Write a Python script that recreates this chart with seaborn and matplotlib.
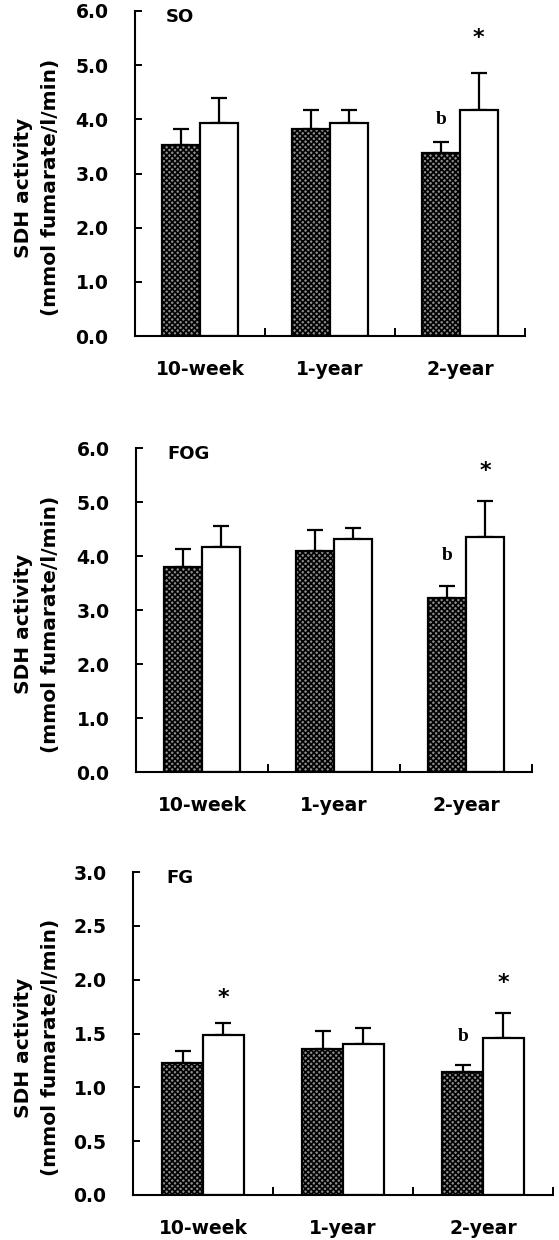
import numpy as np
import pandas as pd
import matplotlib
matplotlib.use("Agg")
import matplotlib.pyplot as plt
import seaborn as sns
from matplotlib.ticker import FixedLocator, FormatStrFormatter

# ---------------- data ----------------
groups = ["10-week", "1-year", "2-year"]
conditions = ["dark", "white"]

so_dark = [3.53, 3.82, 3.37]
so_dark_err = [0.30, 0.36, 0.22]
so_white = [3.93, 3.93, 4.18]
so_white_err = [0.47, 0.25, 0.67]

fog_dark = [3.80, 4.09, 3.23]
fog_dark_err = [0.33, 0.40, 0.22]
fog_white = [4.17, 4.31, 4.36]
fog_white_err = [0.39, 0.21, 0.65]

fg_dark = [1.23, 1.36, 1.14]
fg_dark_err = [0.105, 0.16, 0.07]
fg_white = [1.49, 1.40, 1.46]
fg_white_err = [0.11, 0.15, 0.23]

panel_names = ["SO", "FOG", "FG"]
y_maxes = [6.0, 6.0, 3.0]
y_steps = [1.0, 1.0, 0.5]

# annotations: (group index, condition index, text, y)
so_marks = [(2, 0, "b", 4.0), (2, 1, "*", 5.50)]
fog_marks = [(2, 0, "b", 4.0), (2, 1, "*", 5.58)]
fg_marks = [(2, 0, "b", 1.47), (0, 1, "*", 1.83), (2, 1, "*", 1.97)]

panels = [
    (so_dark, so_dark_err, so_white, so_white_err, so_marks),
    (fog_dark, fog_dark_err, fog_white, fog_white_err, fog_marks),
    (fg_dark, fg_dark_err, fg_white, fg_white_err, fg_marks),
]

# ---------------- style ----------------
sns.set_style("white")
plt.rcParams["font.family"] = ["DejaVu Sans"]
plt.rcParams["font.weight"] = "bold"
plt.rcParams["text.color"] = "black"
plt.rcParams["xtick.color"] = "black"
plt.rcParams["ytick.color"] = "black"
plt.rcParams["axes.labelcolor"] = "black"
plt.rcParams["hatch.linewidth"] = 1.2
plt.rcParams["hatch.color"] = "black"

W, H = 559, 1240
fig = plt.figure(figsize=(W / 100, H / 100), dpi=100)

# axes boxes in pixels: (left, top, right, bottom)
boxes = [(135, 11, 525, 336), (136, 448, 532, 772), (133, 872, 553, 1195)]


def px_axes(l, t, r, b):
    return [l / W, 1 - b / H, (r - l) / W, (b - t) / H]


for (dark, dark_err, white, white_err, marks), name, ymax, ystep, box in zip(
    panels, panel_names, y_maxes, y_steps, boxes
):
    ax = fig.add_axes(px_axes(*box))
    df = pd.DataFrame(
        {
            "group": groups * 2,
            "cond": [conditions[0]] * 3 + [conditions[1]] * 3,
            "value": list(dark) + list(white),
        }
    )
    sns.barplot(
        data=df, x="group", y="value", hue="cond", order=groups,
        hue_order=conditions, palette=["white", "white"], width=0.58,
        edgecolor="black", linewidth=1.6, errorbar=None, legend=False,
        ax=ax, zorder=2,
    )
    errs = [dark_err, white_err]
    centers = {}
    bar_conts = list(ax.containers)
    for ci, cont in enumerate(bar_conts):
        xs, ys = [], []
        for gi, bar in enumerate(cont.patches):
            if ci == 0:
                bar.set_facecolor("#8c8c8c")
                bar.set_hatch("xxxxxx")
            xc = bar.get_x() + bar.get_width() / 2
            xs.append(xc)
            ys.append(bar.get_height())
            centers[(gi, ci)] = xc
        ax.errorbar(
            xs, ys, yerr=[np.zeros(len(ys)), errs[ci]], fmt="none",
            ecolor="black", elinewidth=1.6, capsize=6, capthick=1.6, zorder=1,
        )

    for gi, ci, txt, yv in marks:
        if txt == "b":
            ax.text(centers[(gi, ci)], yv, txt, ha="center", va="center",
                    fontsize=14, fontweight="bold", family="Liberation Serif")
        else:
            ax.text(centers[(gi, ci)], yv, txt, ha="center", va="center",
                    fontsize=16, fontweight="bold")

    ax.set_xlim(-0.5, 2.5)
    ax.set_ylim(0, ymax)
    ax.yaxis.set_major_locator(FixedLocator(np.arange(0, ymax + ystep / 2, ystep)))
    ax.yaxis.set_major_formatter(FormatStrFormatter("%.1f"))
    ax.xaxis.set_minor_locator(FixedLocator([0.5, 1.5, 2.5]))
    ax.tick_params(axis="y", direction="in", length=5, width=1.4, pad=19,
                   labelsize=13.5, left=True)
    ax.tick_params(axis="x", which="major", length=0, pad=17, labelsize=13.5)
    ax.tick_params(axis="x", which="minor", direction="in", length=6, width=1.4,
                   bottom=True)
    for lab in ax.get_xticklabels() + ax.get_yticklabels():
        lab.set_fontweight("bold")
    for s in ["top", "right"]:
        ax.spines[s].set_visible(False)
    for s in ["left", "bottom"]:
        ax.spines[s].set_linewidth(1.5)
        ax.spines[s].set_color("black")
    ax.set_xlabel("")
    ax.set_ylabel("")
    ax.text(0.08, 0.982, name, transform=ax.transAxes, ha="left", va="center",
            fontsize=13, fontweight="bold")

    l, t, r, b = box
    yc = (t + b) / 2 + 14
    fig.text(37 / W, 1 - yc / H, "SDH activity\n(mmol fumarate/l/min)",
             rotation=90, ha="center", va="center", ma="center",
             fontsize=14.5, fontweight="bold", linespacing=1.5)

fig.savefig("out.png", dpi=100)
